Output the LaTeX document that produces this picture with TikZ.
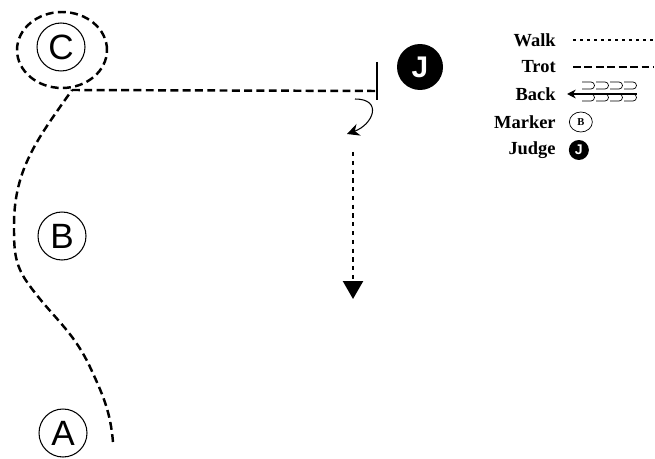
\documentclass[tikz,border=0pt]{standalone}
\usepackage{fontspec}
\setmainfont{Liberation Serif}
\newfontfamily\markerfont{Liberation Sans}
\usetikzlibrary{arrows.meta,positioning,shapes.geometric}

\begin{document}
\begin{tikzpicture}[x=0.02cm, y=-0.02cm,
  marker/.style={draw, circle, semithick, minimum size=0.96cm, inner sep=0pt, font=\markerfont\fontsize{20}{20}\selectfont},
  judge/.style={fill=black, circle, minimum size=0.92cm, inner sep=0pt, text=white, font=\markerfont\bfseries\fontsize{17}{17}\selectfont},
  trot/.style={line width=1.4pt, dash pattern=on 4.5pt off 2.5pt},
  walk/.style={line width=1.5pt, dash pattern=on 2.4pt off 2.6pt},
  key/.style={anchor=east, inner sep=0pt, font=\bfseries\fontsize{10.5}{10.5}\selectfont},
  ptr/.style={-{Stealth[length=7pt,width=7pt]}, semithick}
]
  \useasboundingbox (0,0) rectangle (655,459);

  % arena markers
  \node[marker] (C) at (61,47) {C};
  \node[marker] (B) at (62,236) {B};
  \node[marker] (A) at (63,433) {A};
  \node[judge] (J) at (420,67) {J};

  % trot from A round C up to the halt
  \coordinate (start) at (113,442);
  \coordinate (corner) at (72,90);
  \coordinate (halt) at (377,91);
  \coordinate (haltTop) at (377,62);
  \coordinate (haltBot) at (377,100);
  \draw[trot] (start) to[out=95, in=-65] (90,367) to[out=115, in=-55] (27,282)
    to[out=125, in=-90] (14,225) to[out=90, in=-125] (corner);
  \draw[trot] (C) ++(1,3) ellipse [x radius=0.9cm, y radius=0.76cm];
  \draw[trot] (corner) -- (halt);
  \draw[semithick] (haltTop) -- (haltBot);

  % turn and walk away
  \coordinate (turn0) at (355,99);
  \coordinate (turn1) at (347,134);
  \draw[ptr] (turn0) to[out=0, in=20, looseness=2] (turn1);
  \coordinate (walk0) at (353,152);
  \coordinate (walk1) at (353,299);
  \draw[walk] (walk0) -- ([yshift=0.3cm]walk1);
  \draw[-{Triangle[length=0.36cm,width=0.4cm]}, line width=1.4pt] ([yshift=0.32cm]walk1) -- (walk1);

  % legend
  \node[key] (kwalk) at (556,40) {Walk};
  \node[key] (ktrot) at (556,67) {Trot};
  \node[key] (kback) at (556,94) {Back};
  \node[key] (kmark) at (556,122) {Marker};
  \node[key] (kjudge) at (556,150) {Judge};

  \coordinate[right=0.34cm of kwalk] (w0);
  \draw[line width=1.1pt, dash pattern=on 1.8pt off 2.2pt] (w0) -- ++(82,0);
  \coordinate[right=0.34cm of ktrot] (t0);
  \draw[line width=1.1pt, dash pattern=on 4.5pt off 2pt] (t0) -- ++(80,0);
  \coordinate[right=0.22cm of kback] (b0);
  \draw[{Stealth[length=5pt,width=5pt]}-, semithick] (b0) -- ++(70,0);
  \foreach \i in {0,...,3} {
    \draw[thin] (582+14*\i,82) -- ++(9,0) arc[start angle=-90, end angle=90, x radius=3.5, y radius=3.5] -- ++(-9,0);
    \draw[thin] (582+14*\i,94) -- ++(9,0) arc[start angle=-90, end angle=90, x radius=3.5, y radius=3.5] -- ++(-9,0);
  }
  \node[draw, thin, ellipse, minimum width=0.46cm, minimum height=0.4cm, inner sep=0pt, font=\bfseries\fontsize{6}{6}\selectfont, right=0.26cm of kmark] (mkey) {B};
  \node[fill=black, circle, minimum size=0.4cm, inner sep=0pt, text=white, font=\markerfont\bfseries\fontsize{8}{8}\selectfont, right=0.25cm of kjudge] (jkey) {J};
\end{tikzpicture}
\end{document}
